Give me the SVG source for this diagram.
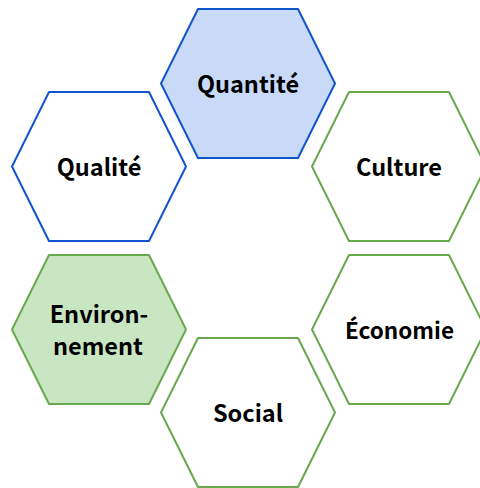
<svg xmlns="http://www.w3.org/2000/svg" width="480" height="488" viewBox="0 0 480 488">
<style>
.h{stroke-width:2;stroke-linejoin:round}
.b{stroke:#1155cc}
.g{stroke:#6aa84f}
.n{fill:#fff}
text{font-family:"Noto Sans CJK SC","Noto Sans",sans-serif;font-weight:700;font-size:23.500px;fill:#000;text-anchor:middle}
</style>
<defs><polygon id="hex" points="-87,0 -50,-74.500 50,-74.500 87,0 50,74.500 -50,74.500"/></defs>
<rect width="480" height="488" fill="#fff"/>
<g id="connectors"></g>
<g id="quantite"><use href="#hex" x="248" y="83.500" class="h b" fill="#c9daf8"/><text x="248" y="93">Quantité</text></g>
<g id="qualite"><use href="#hex" x="99" y="166.500" class="h b n"/><text x="99" y="176">Qualité</text></g>
<g id="culture"><use href="#hex" x="399" y="166.500" class="h g n"/><text x="399" y="176">Culture</text></g>
<g id="environnement"><use href="#hex" x="99" y="329.500" class="h g" fill="#c9e6c3"/><text x="99" y="323">Environ-</text><text x="98" y="355">nement</text></g>
<g id="economie"><use href="#hex" x="399" y="329.500" class="h g n"/><text x="399.500" y="339" style="font-size:22.500px">Économie</text></g>
<g id="social"><use href="#hex" x="248" y="412.500" class="h g n"/><text x="248" y="421.500">Social</text></g>
</svg>
